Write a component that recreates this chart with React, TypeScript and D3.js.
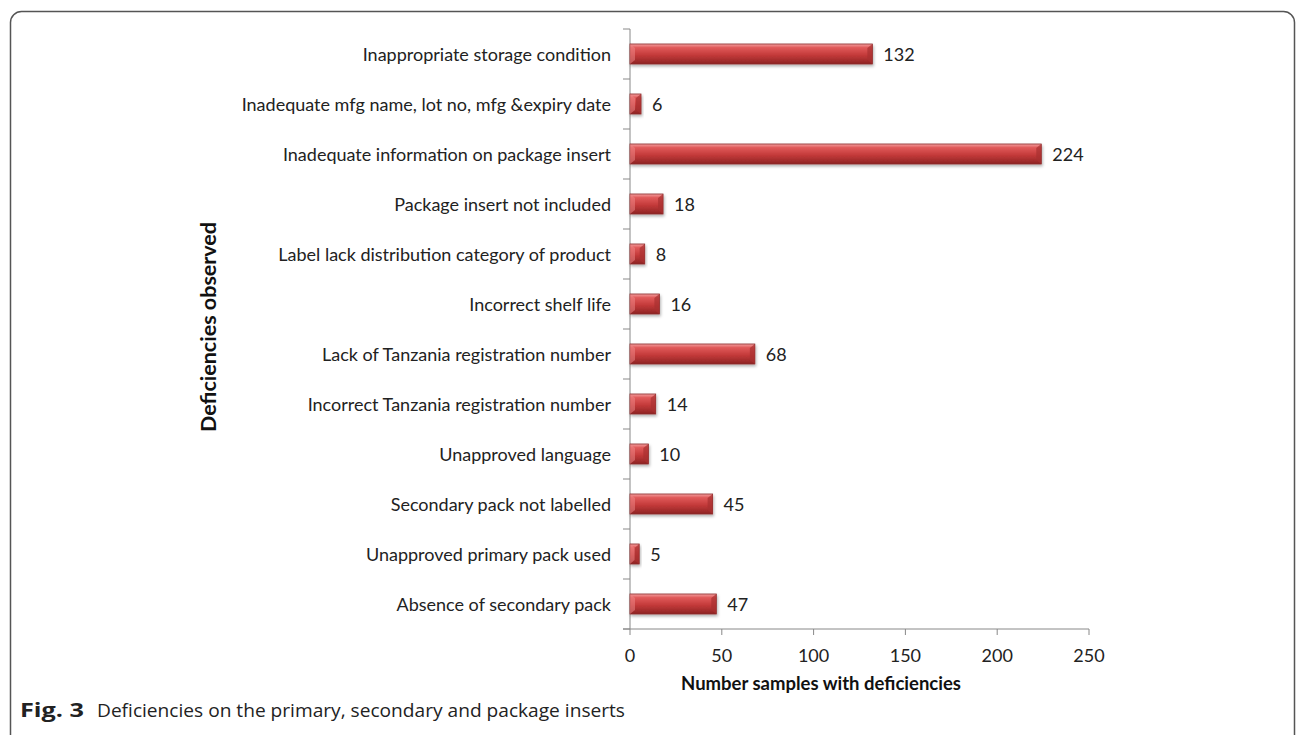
import React, { useEffect, useRef } from 'react';
import * as d3 from 'd3';

const categories = [
  'Inappropriate storage condition',
  'Inadequate mfg name, lot no, mfg &expiry date',
  'Inadequate information on package insert',
  'Package insert not included',
  'Label lack distribution category of product',
  'Incorrect shelf life',
  'Lack of Tanzania registration number',
  'Incorrect Tanzania registration number',
  'Unapproved language',
  'Secondary pack not labelled',
  'Unapproved primary pack used',
  'Absence of secondary pack',
];
const counts = [132, 6, 224, 18, 8, 16, 68, 14, 10, 45, 5, 47];
const xTicks = [0, 50, 100, 150, 200, 250];

const App: React.FC = () => {
  const svgRef = useRef<SVGSVGElement>(null);

  useEffect(() => {
    if (!svgRef.current) return;
    const svg = d3.select(svgRef.current);
    svg.selectAll('*').remove();

    const left = 630;
    const right = 1089;
    const top = 29;
    const bottom = 629;
    const font = 'Lato, "Open Sans", sans-serif';
    const fs = 18;

    const x = d3.scaleLinear().domain([0, 250]).range([left, right]);
    const y = d3.scaleBand<string>().domain(categories).range([top, bottom]).paddingInner(0.6).paddingOuter(0.3);
    const step = y.step();

    // frame
    svg.append('rect').attr('x', 10.5).attr('y', 11.5).attr('width', 1284).attr('height', 760)
      .attr('rx', 11).attr('fill', 'none').attr('stroke', '#555').attr('stroke-width', 1.5);

    const defs = svg.append('defs');
    const grad = defs.append('linearGradient').attr('id', 'barGrad').attr('x1', 0).attr('y1', 0).attr('x2', 0).attr('y2', 1);
    grad.append('stop').attr('offset', '0%').attr('stop-color', '#f4a0a0');
    grad.append('stop').attr('offset', '18%').attr('stop-color', '#e05a5a');
    grad.append('stop').attr('offset', '55%').attr('stop-color', '#c43a3a');
    grad.append('stop').attr('offset', '100%').attr('stop-color', '#8e2424');
    const shadow = defs.append('filter').attr('id', 'shadow').attr('x', '-10%').attr('y', '-30%').attr('width', '130%').attr('height', '180%');
    shadow.append('feDropShadow').attr('dx', 1).attr('dy', 2).attr('stdDeviation', 1.5).attr('flood-color', '#000').attr('flood-opacity', 0.3);

    // axes lines
    svg.append('line').attr('x1', left).attr('x2', left).attr('y1', top).attr('y2', bottom).attr('stroke', '#888').attr('stroke-width', 1);
    svg.append('line').attr('x1', left - 7).attr('x2', right).attr('y1', bottom).attr('y2', bottom).attr('stroke', '#888').attr('stroke-width', 1);

    // y ticks at band boundaries
    d3.range(categories.length + 1).forEach(i => {
      const yy = top + i * step;
      svg.append('line').attr('x1', left - 7).attr('x2', left).attr('y1', yy).attr('y2', yy).attr('stroke', '#888');
    });

    // x ticks
    xTicks.forEach(t => {
      svg.append('line').attr('x1', x(t)).attr('x2', x(t)).attr('y1', bottom).attr('y2', bottom + 6).attr('stroke', '#888');
      svg.append('text').attr('x', x(t)).attr('y', bottom + 33).attr('text-anchor', 'middle')
        .attr('font-family', font).attr('font-size', fs).attr('fill', '#222').text(t);
    });

    // bars
    const bh = y.bandwidth();
    categories.forEach((c, i) => {
      const y0 = y(c)!;
      const x1 = x(counts[i]);
      svg.append('rect').attr('x', left).attr('y', y0).attr('width', x1 - left).attr('height', bh)
        .attr('fill', 'url(#barGrad)').attr('stroke', '#8a2a2a').attr('stroke-width', 0.8).attr('filter', 'url(#shadow)');
      // bevel at ends
      const bev = Math.min(5, (x1 - left) / 2);
      svg.append('path')
        .attr('d', `M${x1},${y0} L${x1 - bev},${y0 + 4} L${x1 - bev},${y0 + bh - 4} L${x1},${y0 + bh} Z`)
        .attr('fill', '#a83030').attr('opacity', 0.7);
      svg.append('path')
        .attr('d', `M${left},${y0} L${left + bev},${y0 + 4} L${left + bev},${y0 + bh - 4} L${left},${y0 + bh} Z`)
        .attr('fill', '#f08a8a').attr('opacity', 0.5);
      svg.append('text').attr('x', x1 + 11).attr('y', y0 + bh / 2 + 6.5)
        .attr('font-family', font).attr('font-size', fs).attr('fill', '#222').text(counts[i]);
      svg.append('text').attr('x', left - 19).attr('y', y0 + bh / 2 + 6.5).attr('text-anchor', 'end')
        .attr('font-family', font).attr('font-size', fs).attr('fill', '#222').text(c);
    });

    // axis titles
    svg.append('text').attr('x', 821).attr('y', 690).attr('text-anchor', 'middle')
      .attr('font-family', font).attr('font-size', 18.5).attr('font-weight', 'bold').attr('fill', '#111')
      .text('Number samples with deficiencies');
    svg.append('text').attr('transform', 'translate(216,327) rotate(-90)').attr('text-anchor', 'middle')
      .attr('font-family', font).attr('font-size', 21.5).attr('font-weight', 'bold').attr('fill', '#111')
      .text('Deficiencies observed');

    // caption
    const capFont = '"Open Sans", "Noto Sans", sans-serif';
    svg.append('text').attr('x', 20).attr('y', 717).attr('font-family', capFont).attr('font-weight', 'bold')
      .attr('font-size', 19).attr('fill', '#222').attr('textLength', 64).attr('lengthAdjust', 'spacingAndGlyphs').text('Fig. 3');
    svg.append('text').attr('x', 97).attr('y', 717).attr('font-family', capFont)
      .attr('font-size', 18.5).attr('fill', '#222').attr('textLength', 528).attr('lengthAdjust', 'spacingAndGlyphs')
      .text('Deficiencies on the primary, secondary and package inserts');
  }, []);

  return (
    <svg ref={svgRef} width={1296} height={735} viewBox="0 0 1296 735"
      style={{ position: 'absolute', left: 0, top: 0, background: '#fff' }} />
  );
};

export default App;
